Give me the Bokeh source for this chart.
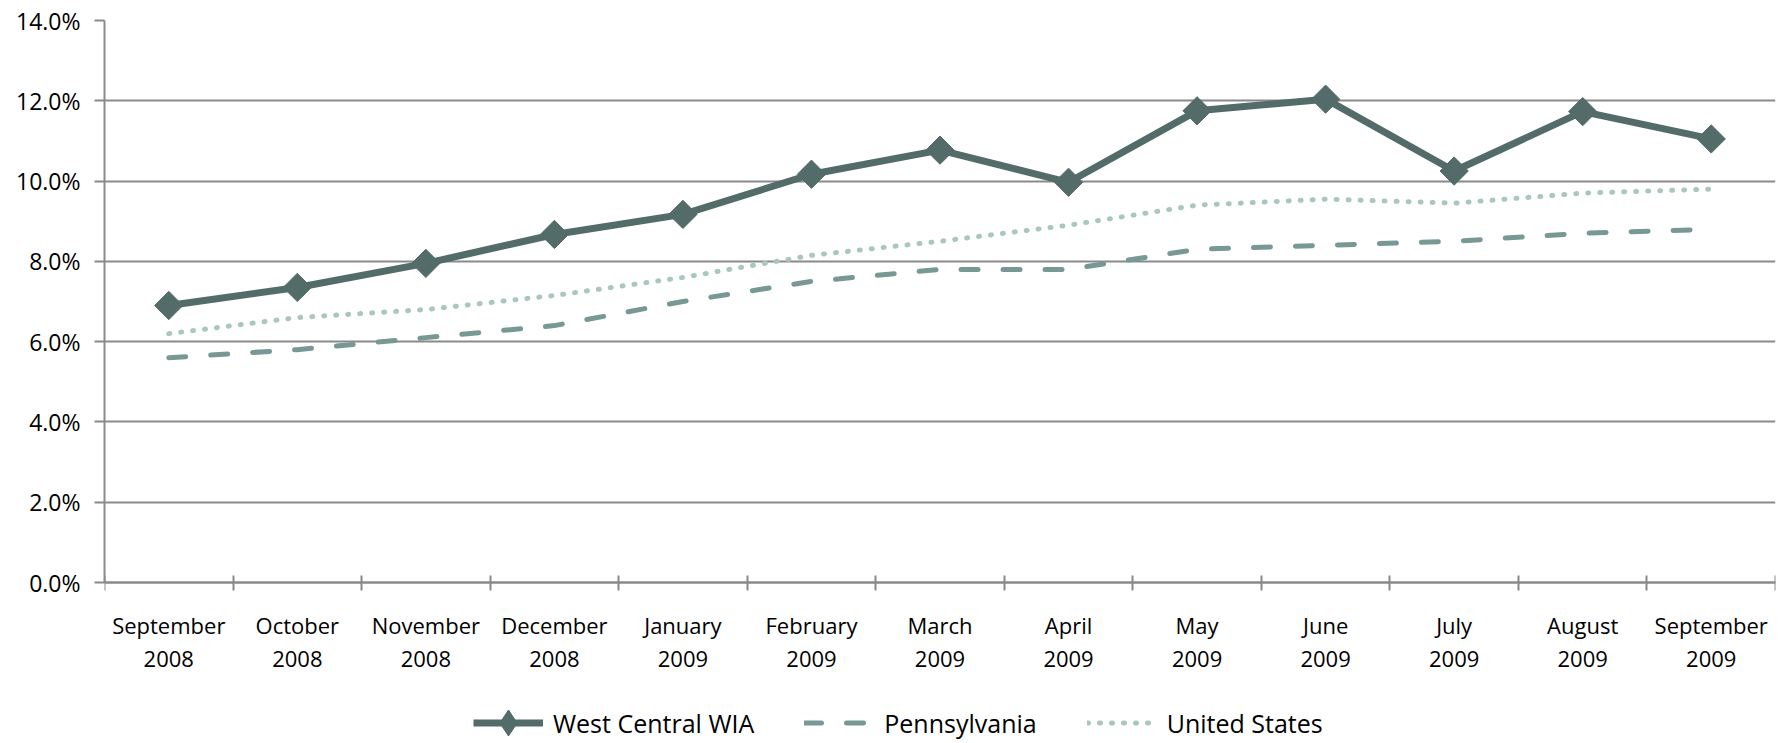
import math
from bokeh.plotting import figure
from bokeh.models import (Range1d, FixedTicker, PrintfTickFormatter, Legend,
                          LegendItem, ColumnDataSource)
from bokeh.embed import file_html
from bokeh.resources import INLINE

months = ["September\n2008", "October\n2008", "November\n2008", "December\n2008",
          "January\n2009", "February\n2009", "March\n2009", "April\n2009",
          "May\n2009", "June\n2009", "July\n2009", "August\n2009", "September\n2009"]
wia = [6.9, 7.35, 7.95, 8.67, 9.17, 10.17, 10.77, 9.97, 11.75, 12.04, 10.25, 11.73, 11.05]
pa = [5.6, 5.8, 6.1, 6.4, 7.0, 7.5, 7.8, 7.8, 8.3, 8.4, 8.5, 8.7, 8.8]
us = [6.2, 6.6, 6.8, 7.15, 7.6, 8.15, 8.5, 8.9, 9.4, 9.55, 9.45, 9.7, 9.8]
y_ticks = [0, 2, 4, 6, 8, 10, 12, 14]

WIA_C = "#536C69"
PA_C = "#789896"
US_C = "#A9C7BD"
GRID_C = "#8A8A8A"
FONT = "Open Sans"

W, H = 1776, 741
TOP, ZERO_Y = 20, 582          # canvas px of the 14% line and of the 0% line
LEFT = 104
px_per_unit = (ZERO_Y - TOP) / 14.0
y_min = -(H - ZERO_Y) / px_per_unit

xs = list(range(1, len(months) + 1))
src = ColumnDataSource(dict(x=xs, wia=wia, pa=pa, us=us))

p = figure(width=W, height=H, output_backend="svg", toolbar_location=None,
           x_range=Range1d(0.5, len(months) + 0.5), y_range=Range1d(y_min, 14),
           min_border_left=LEFT, min_border_right=1, min_border_top=TOP,
           min_border_bottom=0)
p.outline_line_color = None
p.background_fill_color = "white"
p.border_fill_color = "white"

# x axis drawn at y = 0: labels at category centres, ticks at boundaries
xa = p.xaxis[0]
xa.fixed_location = 0
xa.ticker = FixedTicker(ticks=xs, minor_ticks=[i + 0.5 for i in range(len(months) + 1)])
xa.major_label_overrides = {x: m for x, m in zip(xs, months)}
xa.major_tick_line_color = None
xa.major_tick_out = 8
xa.major_tick_in = 0
xa.minor_tick_line_color = GRID_C
xa.minor_tick_line_width = 2
xa.minor_tick_in = 7
xa.minor_tick_out = 8
xa.axis_line_color = GRID_C
xa.axis_line_width = 2
xa.major_label_text_font = FONT
xa.major_label_text_font_size = "22px"
xa.major_label_text_color = "#000000"
xa.major_label_text_line_height = 1.12
xa.major_label_standoff = 19

ya = p.yaxis[0]
ya.bounds = (0, 14)
ya.ticker = FixedTicker(ticks=y_ticks)
ya.formatter = PrintfTickFormatter(format="%.1f%%")
ya.major_tick_out = 10
ya.major_tick_in = 0
ya.major_tick_line_color = GRID_C
ya.major_tick_line_width = 2
ya.minor_tick_line_color = None
ya.axis_line_color = GRID_C
ya.axis_line_width = 2
ya.major_label_text_font = FONT
ya.major_label_text_font_size = "23px"
ya.major_label_text_color = "#000000"
ya.major_label_standoff = 14

p.xgrid.grid_line_color = None
p.ygrid.ticker = FixedTicker(ticks=y_ticks)
p.ygrid.grid_line_color = GRID_C
p.ygrid.grid_line_width = 2

r_us = p.line("x", "us", source=src, line_color=US_C, line_width=5,
              line_dash="1 11", line_cap="round")
r_pa = p.line("x", "pa", source=src, line_color=PA_C, line_width=5,
              line_dash="17 25", line_cap="round")
r_wia = p.line("x", "wia", source=src, line_color=WIA_C, line_width=7)
# diamond marker (used for the legend glyph), covered by the rotated square
r_wia_d = p.scatter("x", "wia", source=src, marker="diamond", size=14,
                    fill_color=WIA_C, line_color=WIA_C)
r_wia_m = p.scatter("x", "wia", source=src, marker="square", size=20,
                    angle=math.pi / 4, fill_color=WIA_C, line_color=WIA_C)

legend = Legend(items=[
    LegendItem(label="West Central WIA", renderers=[r_wia, r_wia_d]),
    LegendItem(label="Pennsylvania", renderers=[r_pa]),
    LegendItem(label="United States", renderers=[r_us]),
], orientation="horizontal", location=(369, -14),
    glyph_width=70, glyph_height=65, label_standoff=10, spacing=50,
    padding=0, margin=0, border_line_color=None, background_fill_alpha=0,
    label_text_font=FONT, label_text_font_size="25px", label_text_color="#000000")
p.add_layout(legend, "center")

open("out.html", "w").write(file_html(p, INLINE))
